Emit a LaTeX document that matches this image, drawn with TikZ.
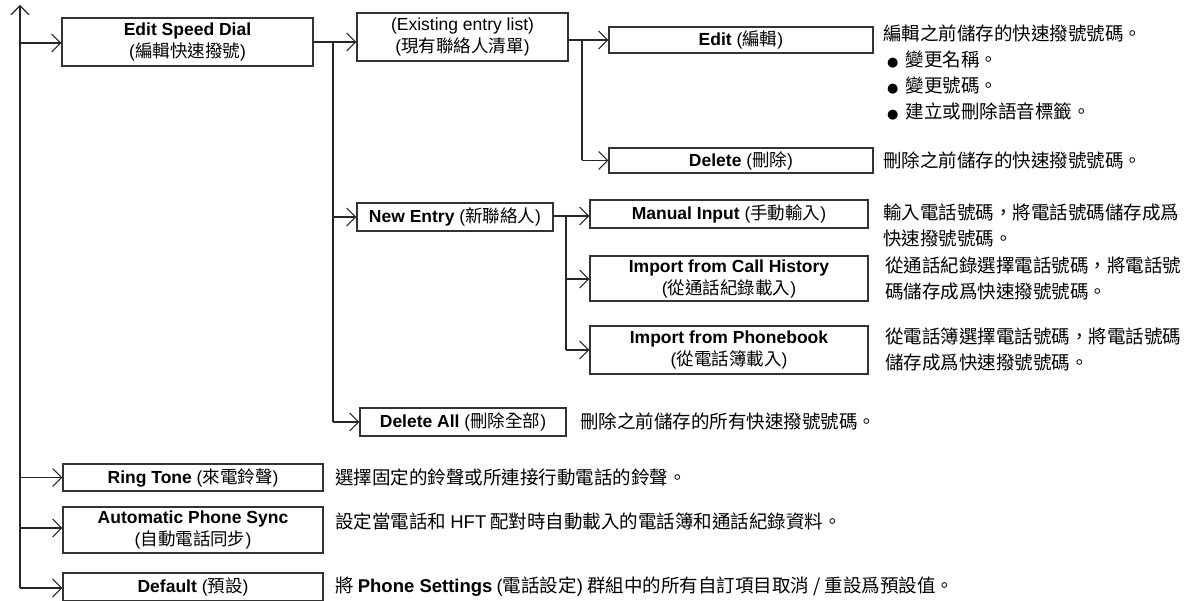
\documentclass[tikz,border=0pt]{standalone}
\usepackage{fontspec}
\setmainfont{Liberation Sans}
\newfontfamily\cjk{Noto Sans CJK TC}
\newfontfamily\symf{DejaVu Sans}
\usetikzlibrary{arrows.meta}
\newcommand\zh[1]{{\cjk #1}}
\newcommand\bul{\hspace*{4pt}{\symf\fontsize{13}{13}\selectfont ●}\hspace{7pt}}
\begin{document}
\begin{tikzpicture}[x=1pt,y=-1pt,
  box/.style={draw=black!80, line width=1.1pt, inner sep=0pt, align=center,
    font=\fontsize{17.5}{22}\selectfont},
  desc/.style={anchor=west, inner sep=0pt, align=left,
    font=\fontsize{18.5}{26}\cjk},
  conn/.style={line width=1.1pt, draw=black!85},
  arr/.style={conn, -{Straight Barb[length=9pt,width=18pt,line width=1.1pt]}}
]
\useasboundingbox (0,0) rectangle (1187,601);

% boxes
\node[box, minimum width=251pt, minimum height=48pt] (esd) at (187.5,42)
  {\textbf{Edit Speed Dial}\\(\zh{編輯快速撥號})};
\node[box, minimum width=211pt, minimum height=48pt] (ex) at (462.5,37)
  {(Existing entry list)\\(\zh{現有聯絡人清單})};
\node[box, minimum width=264pt, minimum height=26pt] (ed) at (741,40)
  {\textbf{Edit} (\zh{編輯})};
\node[box, minimum width=264pt, minimum height=25pt] (dl) at (741,160.5)
  {\textbf{Delete} (\zh{刪除})};
\node[box, minimum width=196pt, minimum height=28pt] (ne) at (455,217)
  {\textbf{New Entry} (\zh{新聯絡人})};
\node[box, minimum width=278pt, minimum height=28pt] (mi) at (729,214)
  {\textbf{Manual Input} (\zh{手動輸入})};
\node[box, minimum width=278pt, minimum height=45pt] (ch) at (729,278.5)
  {\textbf{Import from Call History}\\(\zh{從通話紀錄載入})};
\node[box, minimum width=278pt, minimum height=48pt] (pb) at (729,350)
  {\textbf{Import from Phonebook}\\(\zh{從電話簿載入})};
\node[box, minimum width=206pt, minimum height=28pt] (da) at (463,422)
  {\textbf{Delete All} (\zh{刪除全部})};
\node[box, minimum width=260pt, minimum height=27pt] (rt) at (193,477.5)
  {\textbf{Ring Tone} (\zh{來電鈴聲})};
\node[box, minimum width=260pt, minimum height=46pt] (aps) at (193,530)
  {\textbf{Automatic Phone Sync}\\(\zh{自動電話同步})};
\node[box, minimum width=260pt, minimum height=28pt] (df) at (193,587)
  {\textbf{Default} (\zh{預設})};

% descriptions
\node[desc] (eddesc) at (883,72) {編輯之前儲存的快速撥號號碼。\\
  \bul 變更名稱。\\ \bul 變更號碼。\\ \bul 建立或刪除語音標籤。};
\node[desc] (dldesc) at (883,160.5) {刪除之前儲存的快速撥號號碼。};
\node[desc] (midesc) at (883,225) {輸入電話號碼，將電話號碼儲存成爲\\快速撥號號碼。};
\node[desc] (chdesc) at (885,279) {從通話紀錄選擇電話號碼，將電話號\\碼儲存成爲快速撥號號碼。};
\node[desc] (pbdesc) at (885,349) {從電話簿選擇電話號碼，將電話號碼\\儲存成爲快速撥號號碼。};
\node[desc] (dadesc) at (580,421) {刪除之前儲存的所有快速撥號號碼。};
\node[desc] (rtdesc) at (335,477) {選擇固定的鈴聲或所連接行動電話的鈴聲。};
\node[desc] (apsdesc) at (335,521) {設定當電話和 {\rmfamily HFT} 配對時自動載入的電話簿和通話紀錄資料。};
\node[desc] (dfdesc) at (335,587) {將 {\rmfamily\bfseries Phone Settings} {\rmfamily(}電話設定{\rmfamily)} 群組中的所有自訂項目取消 / 重設爲預設值。};

% main trunk
\coordinate (top) at (20,5);
\coordinate (trunkbot) at (20,588);
\draw[arr] (trunkbot) -- (top);
\draw[arr] (20,43) -- (esd.west |- 0,43);
\draw[arr] (20,477.5) -- (rt.west);
\draw[arr] (20,528) -- (aps.west |- 0,528);
\draw[arr] (trunkbot) -- (df.west |- trunkbot);

% level 2
\coordinate (bB) at (333,42);
\draw[arr] (esd.east |- bB) -- (ex.west |- bB);
\draw[conn] (bB) -- (333,422);
\draw[arr] (333,422) -- (da.west);
\draw[arr] (333,217) -- (ne.west);

% level 3 from existing list
\coordinate (bC) at (582,40);
\draw[arr] (ex.east |- ed.west) -- (ed.west);
\draw[conn] (bC) -- (582,160.5);
\draw[arr] (582,160.5) -- (dl.west);

% level 3 from new entry
\coordinate (bD) at (566,216);
\draw[arr] (ne.east |- bD) -- (mi.west |- bD);
\draw[conn] (bD) -- (566,350);
\draw[arr] (566,279) -- (ch.west |- 0,279);
\draw[arr] (566,350) -- (pb.west);
\end{tikzpicture}
\end{document}
